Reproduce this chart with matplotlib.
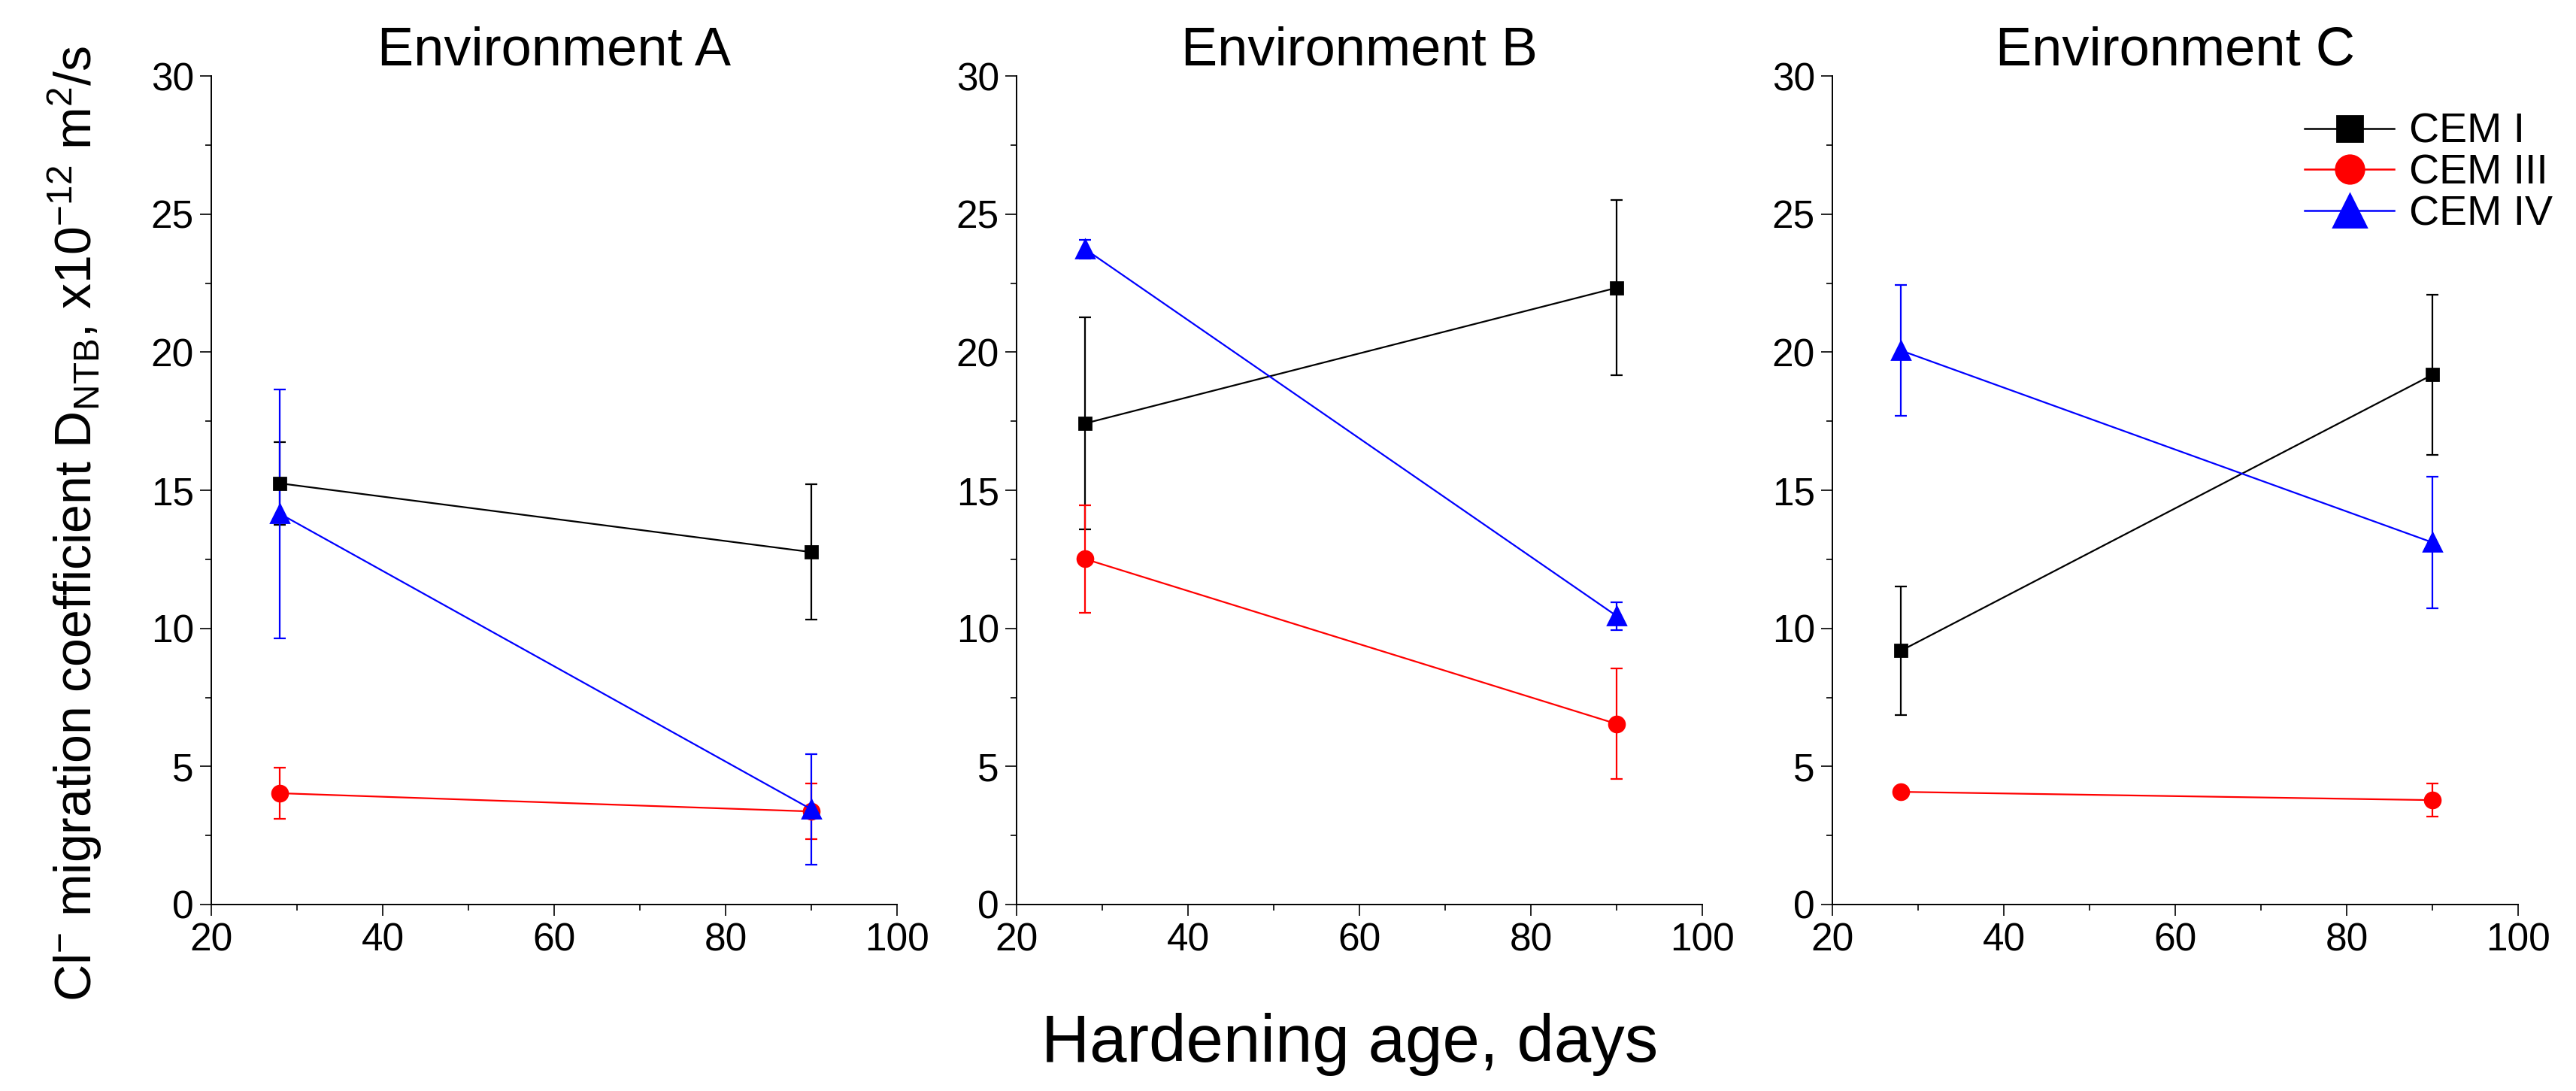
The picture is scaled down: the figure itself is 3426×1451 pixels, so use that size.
import matplotlib
matplotlib.use('Agg')
import matplotlib.pyplot as plt
from matplotlib.lines import Line2D
from matplotlib.ticker import MultipleLocator

plt.rcParams['font.family'] = ['Liberation Sans', 'DejaVu Sans']
plt.rcParams['mathtext.fontset'] = 'custom'
plt.rcParams['mathtext.rm'] = 'Liberation Sans'
plt.rcParams['mathtext.it'] = 'Liberation Sans'

# data
days = [28, 90]
environments = ['Environment A', 'Environment B', 'Environment C']
series = ['CEM I', 'CEM III', 'CEM IV']

cem1 = [[15.25, 12.76], [17.42, 22.33], [9.19, 19.18]]
cem1_err = [[1.5, 2.45], [3.83, 3.17], [2.33, 2.9]]
cem3 = [[4.03, 3.37], [12.51, 6.54], [4.08, 3.78]]
cem3_err = [[0.93, 1.0], [1.94, 2.0], [0.1, 0.6]]
cem4 = [[14.15, 3.45], [23.73, 10.45], [20.06, 13.11]]
cem4_err = [[4.5, 2.0], [0.34, 0.5], [2.37, 2.38]]

values = [cem1, cem3, cem4]
errors = [cem1_err, cem3_err, cem4_err]
colors = ['black', 'red', 'blue']
markers = ['s', 'o', '^']
msizes = [5.5, 7.5, 8.5]

W, H = 3426, 1451
fig = plt.figure(figsize=(W / 200, H / 200), dpi=200)

lefts = [281, 1352, 2437]
axw = 912
bottom = 1203
top = 101

axes = []
for i, env in enumerate(environments):
    ax = fig.add_axes([lefts[i] / W, (H - bottom) / H, axw / W, (bottom - top) / H])
    for j in range(3):
        ax.errorbar(days, values[j][i], yerr=errors[j][i], color=colors[j],
                    marker=markers[j], markersize=msizes[j], linewidth=0.8,
                    elinewidth=0.8, capsize=2.8, capthick=0.8)
    ax.set_xlim(20, 100)
    ax.set_ylim(0, 30)
    ax.xaxis.set_major_locator(MultipleLocator(20))
    ax.xaxis.set_minor_locator(MultipleLocator(10))
    ax.yaxis.set_major_locator(MultipleLocator(5))
    ax.yaxis.set_minor_locator(MultipleLocator(2.5))
    ax.spines['top'].set_visible(False)
    ax.spines['right'].set_visible(False)
    for s in ['left', 'bottom']:
        ax.spines[s].set_linewidth(0.7)
    ax.tick_params(which='major', direction='out', length=5.3, width=0.6,
                   labelsize=18.5, pad=3)
    ax.tick_params(which='minor', direction='out', length=3, width=0.6)
    ax.set_title(env, fontsize=26, pad=5)
    axes.append(ax)

# legend sits in the right panel, drawn on the figure so it can run past the axes
handles = [Line2D([], [], color=colors[j], marker=markers[j], linewidth=0.9,
                  markersize=[12.5, 13.5, 16][j]) for j in range(3)]
fig.legend(handles, series, loc='upper left',
           bbox_to_anchor=(3065 / W, (H - 150) / H), bbox_transform=fig.transFigure,
           frameon=False, fontsize=20, borderpad=0, borderaxespad=0,
           handlelength=2.15, handletextpad=0.35, labelspacing=0.05)

fig.text(0.524, (H - 1412) / H, 'Hardening age, days', fontsize=32,
         ha='center', va='baseline')
fig.text(0.029, 0.52,
         r'Cl$^{-}$ migration coefficient D$_{\mathrm{NTB}}$, x10$^{-12}$ m$^{2}$/s',
         fontsize=24.5, rotation=90, ha='center', va='center')

fig.savefig('out.png', dpi=200)
